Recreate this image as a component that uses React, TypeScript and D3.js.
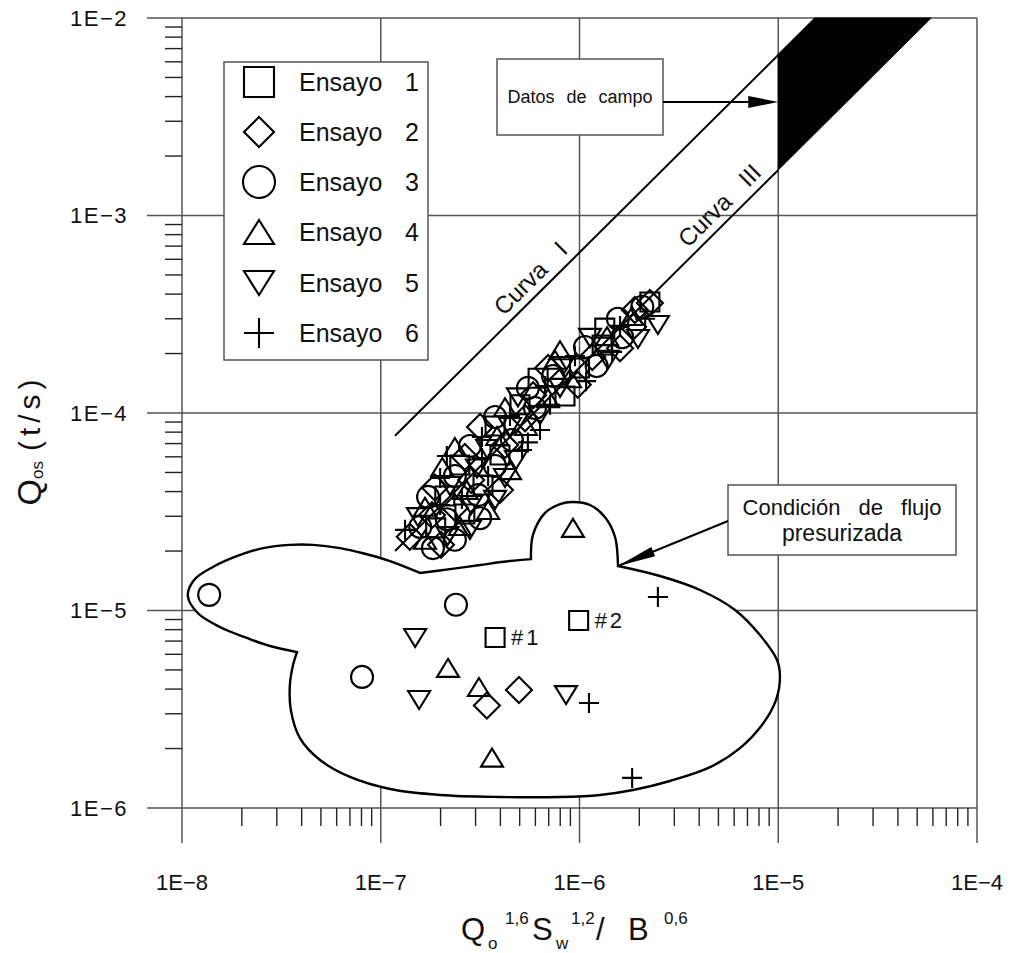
import React from "react";
import * as d3 from "d3";

type Pt = [number, number];

// ---- axes ----
const xTickValues = [1e-8, 1e-7, 1e-6, 1e-5, 1e-4];
const xTickLabels = ["1E−8", "1E−7", "1E−6", "1E−5", "1E−4"];
const yTickValues = [1e-6, 1e-5, 1e-4, 1e-3, 1e-2];
const yTickLabels = ["1E−6", "1E−5", "1E−4", "1E−3", "1E−2"];
const minorSteps = [2, 3, 4, 5, 6, 7, 8, 9];

// ---- test series: [Qo^1.6 Sw^1.2 / B^0.6, Qos (t/s)] ----
const ensayo1: Pt[] = [
  [1.89e-7, 2.62e-5], [2.65e-7, 3.08e-5], [2.1e-7, 3.8e-5], [3.27e-7, 4.32e-5],
  [2.5e-7, 5.45e-5], [3.98e-7, 6.13e-5], [3.76e-7, 8.6e-5], [5.02e-7, 1.1e-4],
  [8.45e-7, 1.22e-4], [6.19e-7, 1.5e-4], [1.0e-6, 1.69e-4], [1.3e-6, 2.21e-4],
  [1.34e-6, 2.69e-4], [2.26e-6, 3.65e-4],
  [3.76e-7, 7.3e-6], [9.9e-7, 8.9e-6],
];
const ensayo2: Pt[] = [
  [2.01e-7, 2.15e-5], [1.4e-7, 2.36e-5], [1.81e-7, 3.04e-5], [2.36e-7, 3.31e-5],
  [1.87e-7, 4.2e-5], [3.98e-7, 4.08e-5], [2.85e-7, 4.58e-5], [2.65e-7, 5.99e-5],
  [4.22e-7, 6.89e-5], [3.16e-7, 8.5e-5], [5.32e-7, 9.4e-5], [5.84e-7, 1.23e-4],
  [9.8e-7, 1.39e-4], [6.95e-7, 1.69e-4], [1.16e-6, 1.92e-4], [1.6e-6, 2.13e-4],
  [1.86e-6, 2.73e-4], [1.9e-6, 3.32e-4], [2.26e-6, 3.61e-4],
  [3.42e-7, 3.3e-6], [4.96e-7, 3.96e-6],
];
const ensayo3: Pt[] = [
  [1.83e-7, 2.07e-5], [2.36e-7, 2.28e-5], [1.58e-7, 2.65e-5], [2.15e-7, 2.9e-5],
  [3.16e-7, 2.93e-5], [1.73e-7, 3.76e-5], [3.09e-7, 3.84e-5], [2.36e-7, 4.8e-5],
  [3.76e-7, 5.39e-5], [2.81e-7, 6.81e-5], [4.57e-7, 7.3e-5], [3.76e-7, 9.55e-5],
  [5.97e-7, 1.06e-4], [5.5e-7, 1.34e-4], [7.36e-7, 1.54e-4], [1.22e-6, 1.73e-4],
  [1.066e-6, 2.16e-4], [1.64e-6, 2.42e-4], [1.56e-6, 3.0e-4], [2.07e-6, 3.45e-4],
  [1.37e-8, 1.2e-5], [2.39e-7, 1.07e-5], [8.05e-8, 4.61e-6],
];
const ensayo4: Pt[] = [
  [1.67e-7, 2.28e-5], [2.5e-7, 2.68e-5], [1.67e-7, 3.35e-5], [3.47e-7, 3.23e-5],
  [2.71e-7, 4.08e-5], [2.04e-7, 5.33e-5], [4.47e-7, 5.14e-5], [2.36e-7, 6.73e-5],
  [3.85e-7, 7.65e-5], [5.38e-7, 8.6e-5], [4.22e-7, 1.07e-4], [6.95e-7, 1.19e-4],
  [8.96e-7, 1.5e-4], [7.53e-7, 1.86e-4], [7.98e-7, 2.08e-4], [1.375e-6, 2.45e-4],
  [1.84e-6, 3.1e-4],
  [9.27e-7, 2.62e-5], [2.18e-7, 5.12e-6], [3.12e-7, 4.1e-6], [3.63e-7, 1.8e-6],
];
const ensayo5: Pt[] = [
  [2.17e-7, 2.38e-5], [2.81e-7, 2.56e-5], [1.54e-7, 2.97e-5], [2.85e-7, 3.42e-5],
  [3.76e-7, 3.63e-5], [2.23e-7, 4.27e-5], [4.22e-7, 4.69e-5], [3.05e-7, 5.24e-5],
  [4.79e-7, 5.78e-5], [3.43e-7, 6.57e-5], [4.47e-7, 8.5e-5], [6.33e-7, 9.77e-5],
  [4.9e-7, 1.2e-4], [7.98e-7, 1.34e-4], [8.26e-7, 1.73e-4], [1.39e-6, 1.86e-4],
  [1.13e-6, 2.4e-4], [1.97e-6, 2.37e-4], [2.48e-6, 2.79e-4],
  [1.49e-7, 7.26e-6], [1.56e-7, 3.52e-6], [8.55e-7, 3.73e-6],
];
const ensayo6: Pt[] = [
  [1.325e-7, 2.56e-5], [1.99e-7, 3.42e-5], [2.56e-7, 3.67e-5], [1.99e-7, 4.69e-5],
  [3.47e-7, 4.8e-5], [2.15e-7, 6.06e-5], [3.23e-7, 5.91e-5], [5.14e-7, 6.5e-5],
  [3.23e-7, 7.56e-5], [5.5e-7, 7.1e-5], [6.33e-7, 8.2e-5], [4.47e-7, 9.66e-5],
  [7.11e-7, 1.1e-4], [6.71e-7, 1.37e-4], [1.08e-6, 1.45e-4], [9.49e-7, 1.94e-4],
  [1.46e-6, 2.04e-4], [1.6e-6, 2.76e-4], [2.14e-6, 3.0e-4],
  [2.48e-6, 1.17e-5], [1.116e-6, 3.4e-6], [1.84e-6, 1.42e-6],
];

const seriesNames = ["1", "2", "3", "4", "5", "6"];
const seriesShapes = ["square", "diamond", "circle", "triangle", "triangleDown", "plus"];
const seriesData = [ensayo1, ensayo2, ensayo3, ensayo4, ensayo5, ensayo6];

// point tags inside the pressurised-flow region
const pointTags = [
  { text: "#1", at: [3.76e-7, 7.3e-6] as Pt },
  { text: "#2", at: [9.9e-7, 8.9e-6] as Pt },
];

// ---- reference curves (Qos = k * X) ----
const curveI: Pt[] = [[1.18e-7, 7.67e-5], [1.54e-5, 1e-2]];
const curveIII: Pt[] = [[1.18e-7, 2.0e-5], [1e-5, 1.7e-3]];
const fieldBand: Pt[] = [[1e-5, 6.5e-3], [1.54e-5, 1e-2], [5.88e-5, 1e-2], [1e-5, 1.7e-3]];
const curveLabels = [
  { text: "Curva  I", at: [6.48e-7, 4.21e-4] as Pt },
  { text: "Curva  III", at: [5.78e-6, 9.83e-4] as Pt },
];

// ---- outline of the pressurised-flow region, in segments split at its corners ----
const regionSegments: Pt[][] = [
  [
    [3.79e-8, 6.16e-6], [2.77e-8, 6.61e-6], [2.12e-8, 7.26e-6], [1.55e-8, 8.25e-6],
    [1.2e-8, 9.71e-6], [1.07e-8, 1.184e-5], [1.15e-8, 1.427e-5], [1.43e-8, 1.66e-5],
    [1.96e-8, 1.91e-5], [2.56e-8, 2.07e-5], [3.49e-8, 2.15e-5], [4.56e-8, 2.15e-5],
    [6.24e-8, 2.07e-5], [8.14e-8, 1.95e-5], [1.113e-7, 1.78e-5], [1.576e-7, 1.55e-5],
  ],
  [
    [1.576e-7, 1.55e-5], [2.23e-7, 1.62e-5], [3.16e-7, 1.7e-5], [4.47e-7, 1.78e-5],
    [5.7e-7, 1.82e-5],
  ],
  [
    [5.7e-7, 1.82e-5], [5.83e-7, 2.41e-5], [6.71e-7, 3.12e-5], [7.98e-7, 3.46e-5],
    [9.27e-7, 3.54e-5], [1.129e-6, 3.42e-5], [1.344e-6, 2.97e-5], [1.509e-6, 2.36e-5],
    [1.562e-6, 1.68e-5],
  ],
  [
    [1.562e-6, 1.68e-5], [2.54e-6, 1.495e-5], [4.04e-6, 1.27e-5], [6.06e-6, 1.006e-5],
    [8.09e-6, 7.51e-6], [9.86e-6, 5.62e-6], [1.02e-5, 4.61e-6], [9.74e-6, 3.52e-6],
    [8.28e-6, 2.63e-6], [6.42e-6, 2.01e-6], [4.54e-6, 1.61e-6], [2.85e-6, 1.37e-6],
    [1.86e-6, 1.233e-6], [1.268e-6, 1.164e-6], [7.98e-7, 1.137e-6], [3.98e-7, 1.137e-6],
    [1.99e-7, 1.164e-6], [1.113e-7, 1.248e-6], [7.0e-8, 1.436e-6], [4.95e-8, 1.75e-6],
    [3.92e-8, 2.26e-6], [3.53e-8, 3.13e-6], [3.49e-8, 4.2e-6], [3.62e-8, 5.3e-6],
    [3.79e-8, 6.16e-6],
  ],
];
const regionArrowTip: Pt = [1.562e-6, 1.68e-5];
const fieldArrowTip: Pt = [1e-5, 3.76e-3];

const FONT = "'Liberation Sans', Arial, Helvetica, sans-serif";
const GRID = "#555";

type Dims = { square: number; diamond: number; circle: number; triW: number; triH: number; plus: number };
const plotDims: Dims = { square: 19, diamond: 13, circle: 11, triW: 22, triH: 18, plus: 10 };
const legendDims: Dims = { square: 30, diamond: 15, circle: 16, triW: 30, triH: 24, plus: 15 };

function markerPath(shape: string, d: Dims): string {
  switch (shape) {
    case "square": {
      const h = d.square / 2;
      return `M${-h},${-h}H${h}V${h}H${-h}Z`;
    }
    case "diamond": {
      const r = d.diamond;
      return `M0,${-r}L${r},0L0,${r}L${-r},0Z`;
    }
    case "circle": {
      const r = d.circle;
      return `M${r},0A${r},${r} 0 1,1 ${-r},0A${r},${r} 0 1,1 ${r},0Z`;
    }
    case "triangle": {
      const w = d.triW / 2, h = d.triH / 2;
      return `M0,${-h}L${w},${h}L${-w},${h}Z`;
    }
    case "triangleDown": {
      const w = d.triW / 2, h = d.triH / 2;
      return `M0,${h}L${w},${-h}L${-w},${-h}Z`;
    }
    default: {
      const a = d.plus;
      return `M${-a},0H${a}M0,${-a}V${a}`;
    }
  }
}

function arrowHead(tail: Pt, tip: Pt, len: number, half: number): string {
  const dx = tip[0] - tail[0], dy = tip[1] - tail[1];
  const L = Math.hypot(dx, dy);
  const ux = dx / L, uy = dy / L;
  const bx = tip[0] - ux * len, by = tip[1] - uy * len;
  return `M${tip[0]},${tip[1]}L${bx - uy * half},${by + ux * half}L${bx + uy * half},${by - ux * half}Z`;
}

export default function App() {
  const x = d3.scaleLog().domain([1e-8, 1e-4]).range([182, 977]);
  const y = d3.scaleLog().domain([1e-6, 1e-2]).range([808, 18]);
  const X0 = x(1e-8), X1 = x(1e-4), Y0 = y(1e-6), Y1 = y(1e-2);
  const ext = 35;
  const minorLen = 17;

  const straight = d3.line<Pt>().x((d) => x(d[0])).y((d) => y(d[1]));
  const smooth = d3
    .line<Pt>()
    .x((d) => x(d[0]))
    .y((d) => y(d[1]))
    .curve(d3.curveCatmullRom.alpha(0.5));

  const regionPath =
    regionSegments
      .map((seg, i) => {
        const p = smooth(seg) || "";
        return i === 0 ? p : "L" + p.slice(1);
      })
      .join("") + "Z";

  const slopeAngle =
    (Math.atan2(y(1e-3) - y(1e-4), x(1e-6) - x(1e-7)) * 180) / Math.PI;

  const minorX: number[] = [];
  xTickValues.slice(0, -1).forEach((v) => minorSteps.forEach((m) => minorX.push(v * m)));
  const minorY: number[] = [];
  yTickValues.slice(0, -1).forEach((v) => minorSteps.forEach((m) => minorY.push(v * m)));

  // annotation boxes
  const fieldBox = { x: 497, y: 59, w: 166, h: 76 };
  const regionBox = { x: 728, y: 485, w: 228, h: 70 };
  const fieldTail: Pt = [fieldBox.x + fieldBox.w, y(fieldArrowTip[1])];
  const fieldTip: Pt = [x(fieldArrowTip[0]), y(fieldArrowTip[1])];
  const regionTail: Pt = [regionBox.x, 521];
  const regionTip: Pt = [x(regionArrowTip[0]), y(regionArrowTip[1])];

  const legend = { x: 224, y: 62, w: 204, h: 298 };
  const legendRows = [82, 132, 182, 232, 283, 333];

  return (
    <svg
      width={1018}
      height={953}
      style={{ position: "absolute", left: 0, top: 0, background: "#fff" }}
      fontFamily={FONT}
    >
      <rect x={0} y={0} width={1018} height={953} fill="#fff" />

      {/* grid and axes */}
      <g stroke={GRID} strokeWidth={1.5} fill="none">
        {yTickValues.map((v) => (
          <line key={"gy" + v} x1={X0 - ext} x2={X1} y1={y(v)} y2={y(v)} />
        ))}
        {xTickValues.map((v) => (
          <line key={"gx" + v} x1={x(v)} x2={x(v)} y1={Y1} y2={Y0 + ext} />
        ))}
      </g>
      <g stroke="#222" strokeWidth={1.4}>
        {minorY.map((v) => (
          <line key={"my" + v} x1={X0 - minorLen} x2={X0} y1={y(v)} y2={y(v)} />
        ))}
        {minorX.map((v) => (
          <line key={"mx" + v} x1={x(v)} x2={x(v)} y1={Y0} y2={Y0 + minorLen + 1} />
        ))}
      </g>

      {/* tick labels */}
      <g fill="#111">
        {yTickValues.map((v, i) => (
          <text key={"ly" + v} x={128} y={y(v)} fontSize={22} textAnchor="end" dominantBaseline="central" letterSpacing={1.5}>
            {yTickLabels[i]}
          </text>
        ))}
        {xTickValues.map((v, i) => (
          <text key={"lx" + v} x={x(v)} y={882} fontSize={22} textAnchor="middle" dominantBaseline="central">
            {xTickLabels[i]}
          </text>
        ))}
      </g>

      {/* axis titles */}
      <text transform="translate(29,440) rotate(-90)" textAnchor="middle" dominantBaseline="central" fill="#111">
        <tspan fontSize={34}>Q</tspan>
        <tspan fontSize={17} dy={8}>os</tspan>
        <tspan fontSize={30} dy={-8} dx={10} letterSpacing={5}>(t/s)</tspan>
      </text>
      <g fill="#111">
        <text x={461} y={940} fontSize={31}>Q</text>
        <text x={488} y={949} fontSize={17}>o</text>
        <text x={505} y={924} fontSize={17}>1,6</text>
        <text x={532} y={940} fontSize={31}>S</text>
        <text x={556} y={949} fontSize={17}>w</text>
        <text x={571} y={924} fontSize={17}>1,2</text>
        <text x={596} y={940} fontSize={31}>/</text>
        <text x={628} y={940} fontSize={31}>B</text>
        <text x={664} y={924} fontSize={17}>0,6</text>
      </g>

      {/* field data band and reference curves */}
      <path d={(straight(fieldBand) || "") + "Z"} fill="#000" stroke="#000" strokeWidth={1} />
      <path d={straight(curveI) || ""} stroke="#000" strokeWidth={2} fill="none" />
      <path d={straight(curveIII) || ""} stroke="#000" strokeWidth={2} fill="none" />
      {curveLabels.map((c) => (
        <text
          key={c.text}
          transform={`translate(${x(c.at[0])},${y(c.at[1])}) rotate(${slopeAngle})`}
          y={-8}
          textAnchor="middle"
          fontSize={24}
          wordSpacing={4}
          fill="#111"
          style={{ whiteSpace: "pre" }}
        >
          {c.text}
        </text>
      ))}

      {/* pressurised-flow region */}
      <path d={regionPath} fill="#fff" stroke="#000" strokeWidth={2.4} strokeLinejoin="miter" />

      {/* data points */}
      {seriesData.map((data, si) => (
        <g key={"s" + si} fill="none" stroke="#000" strokeWidth={2.1}>
          {data.map((d, i) => (
            <path
              key={i}
              d={markerPath(seriesShapes[si], plotDims)}
              transform={`translate(${x(d[0])},${y(d[1])})`}
            />
          ))}
        </g>
      ))}
      {pointTags.map((t) => (
        <text
          key={t.text}
          x={x(t.at[0]) + 16}
          y={y(t.at[1])}
          dominantBaseline="central"
          fontSize={22}
          letterSpacing={3}
          fill="#111"
        >
          {t.text}
        </text>
      ))}

      {/* legend */}
      <rect x={legend.x} y={legend.y} width={legend.w} height={legend.h} fill="#fff" stroke="#555" strokeWidth={1.5} />
      {seriesNames.map((n, i) => (
        <g key={"lg" + n}>
          <path
            d={markerPath(seriesShapes[i], legendDims)}
            transform={`translate(259,${legendRows[i]})`}
            fill="none"
            stroke="#000"
            strokeWidth={2.1}
          />
          <text x={299} y={legendRows[i]} dominantBaseline="central" fontSize={25} fill="#111">
            Ensayo
          </text>
          <text x={405} y={legendRows[i]} dominantBaseline="central" fontSize={25} fill="#111">
            {n}
          </text>
        </g>
      ))}

      {/* annotation: field data */}
      <rect x={fieldBox.x} y={fieldBox.y} width={fieldBox.w} height={fieldBox.h} fill="#fff" stroke="#555" strokeWidth={1.5} />
      <text
        x={fieldBox.x + fieldBox.w / 2}
        y={97}
        textAnchor="middle"
        dominantBaseline="central"
        fontSize={18}
        wordSpacing={7}
        fill="#111"
      >
        Datos de campo
      </text>
      <line x1={fieldTail[0]} y1={fieldTail[1]} x2={fieldTip[0] - 20} y2={fieldTip[1]} stroke="#000" strokeWidth={2} />
      <path d={arrowHead(fieldTail, fieldTip, 30, 6)} fill="#000" />

      {/* annotation: pressurised flow */}
      <rect x={regionBox.x} y={regionBox.y} width={regionBox.w} height={regionBox.h} fill="#fff" stroke="#555" strokeWidth={1.5} />
      <text x={regionBox.x + regionBox.w / 2} y={507} textAnchor="middle" dominantBaseline="central" fontSize={22} wordSpacing={12} fill="#111">
        Condición de flujo
      </text>
      <text x={regionBox.x + regionBox.w / 2} y={533} textAnchor="middle" dominantBaseline="central" fontSize={23} fill="#111">
        presurizada
      </text>
      <line x1={regionTail[0]} y1={regionTail[1]} x2={regionTip[0]} y2={regionTip[1]} stroke="#000" strokeWidth={2} />
      <path d={arrowHead(regionTail, regionTip, 38, 5)} fill="#000" />
    </svg>
  );
}
